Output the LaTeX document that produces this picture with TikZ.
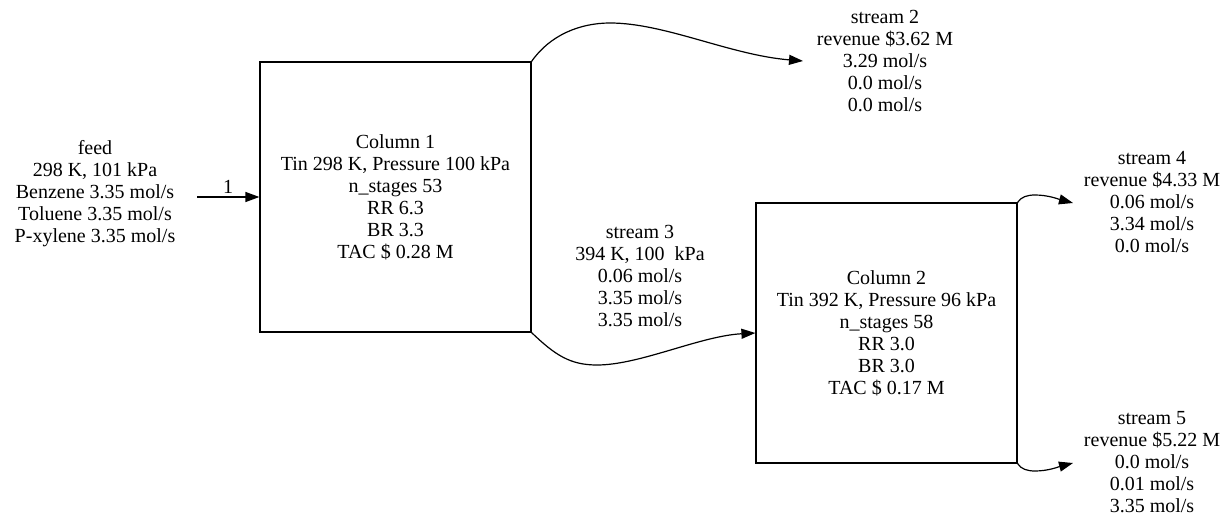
\documentclass[tikz,border=0pt]{standalone}
\usepackage{fontspec}
\setmainfont{LiberationSerif}[Extension=.ttf,UprightFont=*-Regular,BoldFont=*-Bold,ItalicFont=*-Italic]
\usetikzlibrary{arrows.meta}
\begin{document}
\begin{tikzpicture}[x=1pt,y=-1pt,
  txt/.style={align=center,inner sep=0pt,font=\fontsize{20}{22}\selectfont},
  colbox/.style={draw,line width=1.2pt,inner sep=0pt,align=center,font=\fontsize{20}{22}\selectfont},
  edge/.style={line width=1.2pt,-{Triangle[length=14pt,width=10pt]}}]
\useasboundingbox (0,0) rectangle (1226,516);
\node[txt] (feed) at (95,194) {feed\\298 K, 101 kPa\\Benzene 3.35 mol/s\\Toluene 3.35 mol/s\\P-xylene 3.35 mol/s};
\node[colbox,minimum width=271pt,minimum height=270pt] (c1) at (395.5,197) {Column 1\\Tin 298 K, Pressure 100 kPa\\n\_stages 53\\RR 6.3\\BR 3.3\\TAC \$ 0.28 M};
\node[colbox,minimum width=261pt,minimum height=260pt] (c2) at (886.5,333) {Column 2\\Tin 392 K, Pressure 96 kPa\\n\_stages 58\\RR 3.0\\BR 3.0\\TAC \$ 0.17 M};
\node[txt] (s2) at (885,61) {stream 2\\revenue \$3.62 M\\3.29 mol/s\\0.0 mol/s\\0.0 mol/s};
\node[txt] (s3) at (640,276) {stream 3\\394 K, 100~ kPa\hspace*{36pt}\\0.06 mol/s\\3.35 mol/s\\3.35 mol/s};
\node[txt] (s4) at (1152,202) {stream 4\\revenue \$4.33 M\\0.06 mol/s\\3.34 mol/s\\0.0 mol/s};
\node[txt] (s5) at (1152,462) {stream 5\\revenue \$5.22 M\\0.0 mol/s\\0.01 mol/s\\3.35 mol/s};
\coordinate (fout) at (197,197);
\coordinate (s2in) at (803,61);
\coordinate (s4in) at (1073,203);
\coordinate (s5in) at (1073,463);
\draw[edge] (fout) -- node[txt,above=3pt] {1} (c1.west |- fout);
\draw[edge] (c1.north east) .. controls (550,35) and (580,23) .. (610,23) .. controls (665,23) and (730,55) .. (s2in);
\draw[edge] (c1.south east) .. controls (555,355) and (570,365) .. (597,365) .. controls (640,365) and (700,336) .. (c2.west);
\draw[edge] (c2.north east) .. controls (1021,197) and (1027,195) .. (1035,195) .. controls (1048,195) and (1058,199) .. (s4in);
\draw[edge] (c2.south east) .. controls (1021,469) and (1027,471) .. (1035,471) .. controls (1048,471) and (1058,467) .. (s5in);
\end{tikzpicture}
\end{document}
